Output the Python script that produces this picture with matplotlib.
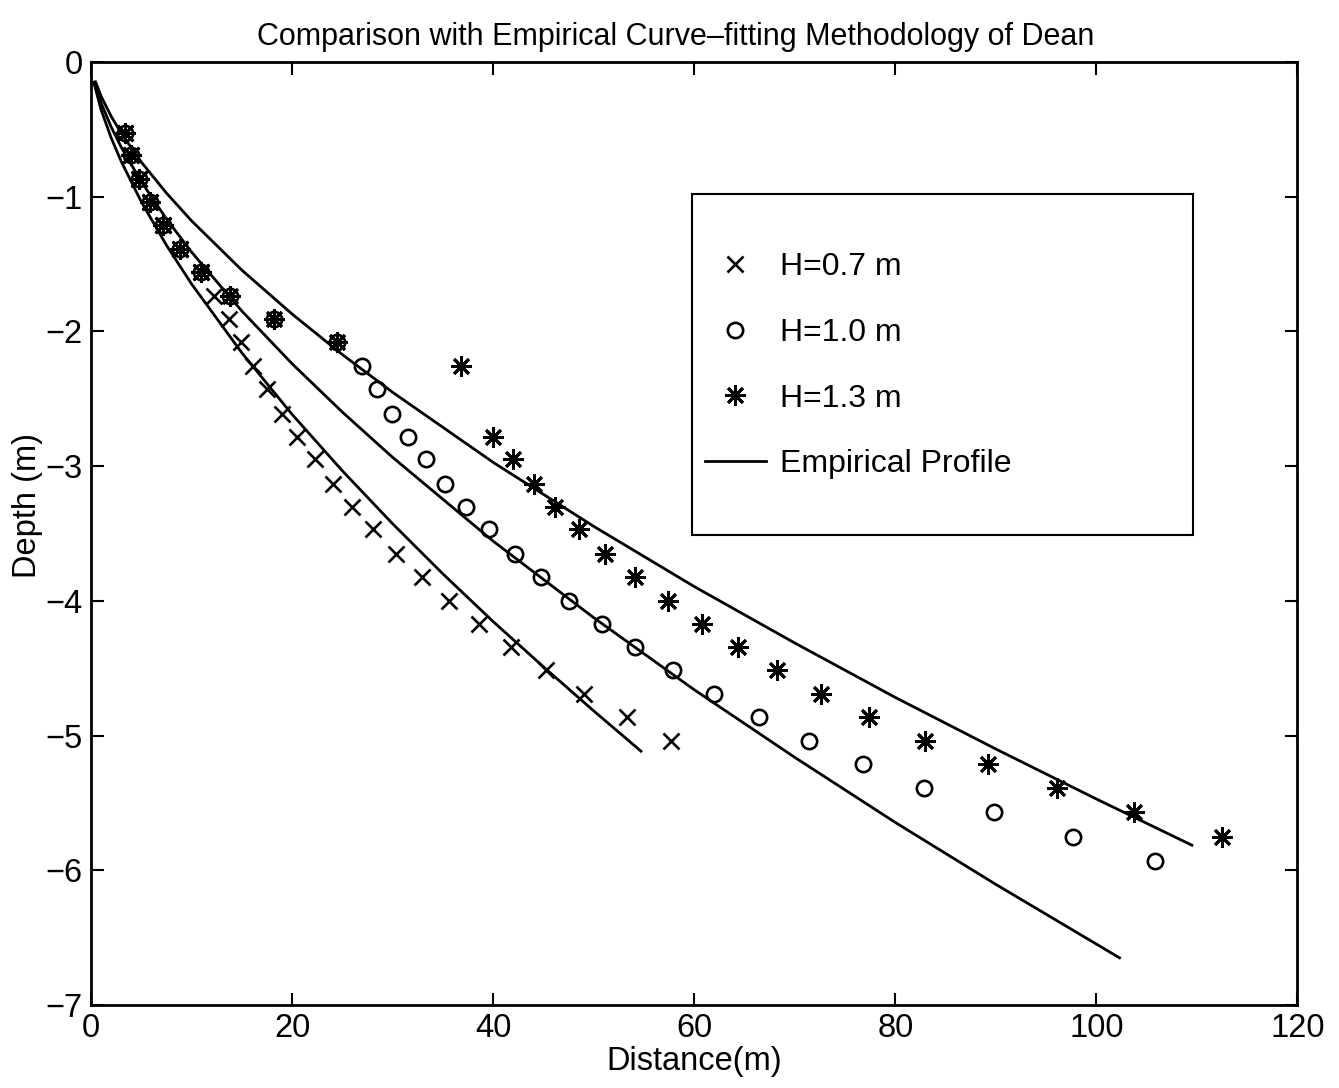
import matplotlib.pyplot as plt
from matplotlib.patches import Rectangle

plt.rcParams['font.family'] = ['Liberation Sans', 'DejaVu Sans']

# Measured profiles (distance in m, depth in m)
x_h07 = [3.38, 3.95, 4.78, 5.84, 7.19, 8.83, 10.95, 12.24, 13.73, 14.90, 16.12,
         17.54, 18.98, 20.53, 22.29, 24.08, 26.00, 28.09, 30.38, 32.87, 35.62,
         38.61, 41.82, 45.24, 49.05, 53.33, 57.66]
d_h07 = [-0.53, -0.69, -0.87, -1.04, -1.21, -1.39, -1.56, -1.74, -1.91, -2.08, -2.26,
         -2.43, -2.61, -2.78, -2.95, -3.13, -3.30, -3.47, -3.65, -3.82, -4.00,
         -4.17, -4.34, -4.51, -4.69, -4.86, -5.04]

x_h10 = [3.38, 3.95, 4.78, 5.84, 7.19, 8.83, 10.95, 13.80, 18.21, 24.51, 26.94,
         28.41, 29.90, 31.54, 33.33, 35.24, 37.31, 39.55, 42.16, 44.78, 47.56,
         50.80, 54.13, 57.91, 62.00, 66.40, 71.44, 76.75, 82.89, 89.84, 97.65, 105.85]
d_h10 = [-0.53, -0.69, -0.87, -1.04, -1.21, -1.39, -1.56, -1.74, -1.91, -2.08, -2.26,
         -2.43, -2.61, -2.78, -2.95, -3.13, -3.30, -3.47, -3.65, -3.82, -4.00,
         -4.17, -4.34, -4.51, -4.69, -4.86, -5.04, -5.21, -5.39, -5.57, -5.75, -5.93]

x_h13 = [3.38, 3.95, 4.78, 5.84, 7.19, 8.83, 10.95, 13.80, 18.21, 24.51, 36.78,
         40.03, 41.92, 44.01, 46.17, 48.56, 51.11, 54.08, 57.34, 60.77, 64.31,
         68.19, 72.61, 77.41, 82.99, 89.25, 96.05, 103.78, 112.47]
d_h13 = [-0.53, -0.69, -0.87, -1.04, -1.21, -1.39, -1.56, -1.74, -1.91, -2.08, -2.26,
         -2.78, -2.95, -3.13, -3.30, -3.47, -3.65, -3.82, -4.00, -4.17, -4.34,
         -4.51, -4.69, -4.86, -5.04, -5.21, -5.39, -5.57, -5.75]

# Empirical (Dean) profiles
xe_1 = [0.27, 1, 2, 3, 5, 7.5, 10, 15, 20, 25, 30, 35, 40, 45, 50, 54.7]
de_1 = [-0.15, -0.355, -0.563, -0.738, -1.038, -1.36, -1.648, -2.159, -2.616,
        -3.035, -3.428, -3.80, -4.154, -4.49, -4.817, -5.116]
xe_2 = [0.35, 1, 2, 3, 5, 7.5, 10, 15, 20, 25, 30, 40, 50, 60, 70, 80, 90, 102.3]
de_2 = [-0.15, -0.304, -0.482, -0.632, -0.889, -1.165, -1.411, -1.849, -2.24,
        -2.599, -2.935, -3.557, -4.125, -4.66, -5.162, -5.645, -6.105, -6.65]
xe_3 = [0.45, 1, 2, 3, 5, 7.5, 10, 15, 20, 25, 30, 40, 50, 60, 70, 80, 90, 100, 109.5]
de_3 = [-0.148, -0.254, -0.403, -0.528, -0.743, -0.973, -1.179, -1.545, -1.871,
        -2.172, -2.452, -2.972, -3.447, -3.894, -4.313, -4.717, -5.10, -5.471, -5.814]

star = (8, 2, 0)

fig = plt.figure(figsize=(13.39, 10.88), dpi=100)
ax = fig.add_axes([0.068, 0.0763, 0.901, 0.8667])

ax.plot(x_h07, d_h07, 'x', color='k', ms=12, mew=1.9, label='H=0.7 m')
ax.plot(x_h10, d_h10, 'o', color='k', mfc='none', ms=11, mew=1.9, label='H=1.0 m')
ax.plot(x_h13, d_h13, linestyle='none', marker=star, color='k', ms=15, mew=2.0,
        label='H=1.3 m')
ax.plot(xe_1, de_1, '-', color='k', lw=2, label='Empirical Profile')
ax.plot(xe_2, de_2, '-', color='k', lw=2)
ax.plot(xe_3, de_3, '-', color='k', lw=2)

ax.set_xlim(0, 120)
ax.set_ylim(-7, 0)
ax.set_xticks(range(0, 121, 20))
ax.set_yticks(range(-7, 1))
ax.tick_params(direction='in', top=True, right=True, length=9, width=1.5,
               labelsize=23.5, pad=6)
for s in ax.spines.values():
    s.set_linewidth(2)

ax.set_title('Comparison with Empirical Curve\u2013fitting Methodology of Dean',
             fontsize=22, pad=12, x=0.485)
ax.set_xlabel('Distance(m)', fontsize=23.5, labelpad=1)
ax.set_ylabel('Depth (m)', fontsize=23.5)
ax.yaxis.set_label_coords(-0.04, 0.53)

ax.add_patch(Rectangle((0.498, 0.498), 0.415, 0.362, transform=ax.transAxes,
                       fill=False, edgecolor='k', lw=1.5, zorder=5))
ax.legend(loc='center left', bbox_to_anchor=(0.509, 0.678), frameon=False,
          fontsize=23, handlelength=1.9, handletextpad=0.45, labelspacing=1.12,
          borderpad=0, borderaxespad=0)

fig.savefig('out.png', dpi=100)
